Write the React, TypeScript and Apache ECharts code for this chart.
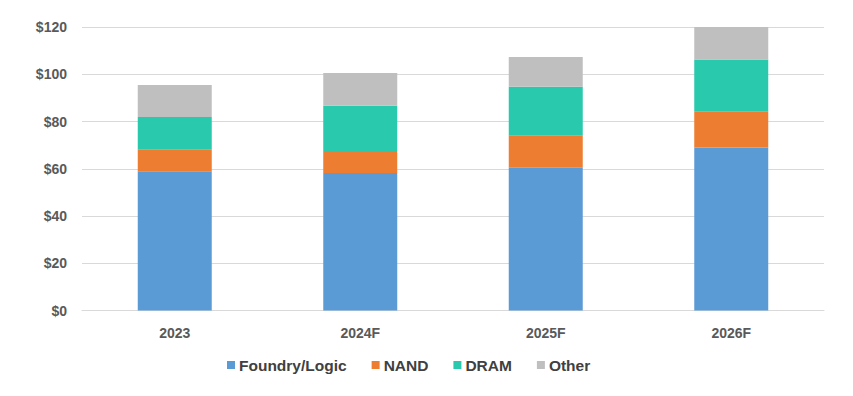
import React, { useEffect, useRef } from "react";
import * as echarts from "echarts";

const categories = ["2023", "2024F", "2025F", "2026F"];
const foundryLogic = [58.9, 58.2, 60.4, 69.0];
const nand = [9.1, 9.3, 13.6, 15.3];
const dram = [13.9, 19.2, 20.7, 21.9];
const other = [13.6, 13.8, 12.6, 13.8];
const seriesNames = ["Foundry/Logic", "NAND", "DRAM", "Other"];
const colors = ["#5B9BD5", "#ED7D31", "#29C9AE", "#BFBFBF"];

export default function App() {
  const ref = useRef<HTMLDivElement>(null);
  useEffect(() => {
    if (!ref.current) return;
    const chart = echarts.init(ref.current, null, { renderer: "svg" });
    const data = [foundryLogic, nand, dram, other];
    chart.setOption({
      animation: false,
      color: colors,
      grid: { left: 82, right: 29, top: 27, bottom: 85.5, containLabel: false },
      legend: {
        left: 222,
        top: 352,
        itemWidth: 8,
        itemHeight: 8,
        itemGap: 25,
        icon: "rect",
        textStyle: {
          fontFamily: "Liberation Sans, Arial, sans-serif",
          fontSize: 15.5,
          fontWeight: "bold",
          color: "#404040",
          padding: [0, 0, 0, -1],
        },
        data: seriesNames,
      },
      xAxis: {
        type: "category",
        data: categories,
        axisLine: { lineStyle: { color: "#D9D9D9", width: 1 } },
        axisTick: { show: false },
        axisLabel: {
          fontFamily: "Liberation Sans, Arial, sans-serif",
          fontSize: 14,
          fontWeight: "bold",
          color: "#595959",
          margin: 15,
        },
      },
      yAxis: {
        type: "value",
        min: 0,
        max: 120,
        interval: 20,
        axisLine: { show: false },
        axisTick: { show: false },
        splitLine: { lineStyle: { color: "#D9D9D9", width: 1 } },
        axisLabel: {
          fontFamily: "Liberation Sans, Arial, sans-serif",
          fontSize: 14,
          fontWeight: "bold",
          color: "#595959",
          margin: 15,
          formatter: (v: number) => "$" + v,
        },
      },
      series: seriesNames.map((name, i) => ({
        name,
        type: "bar",
        stack: "total",
        barWidth: 74,
        data: data[i],
        itemStyle: { color: colors[i] },
      })),
    });
    return () => chart.dispose();
  }, []);
  return <div ref={ref} style={{ width: 853, height: 396, margin: -8 }} />;
}
